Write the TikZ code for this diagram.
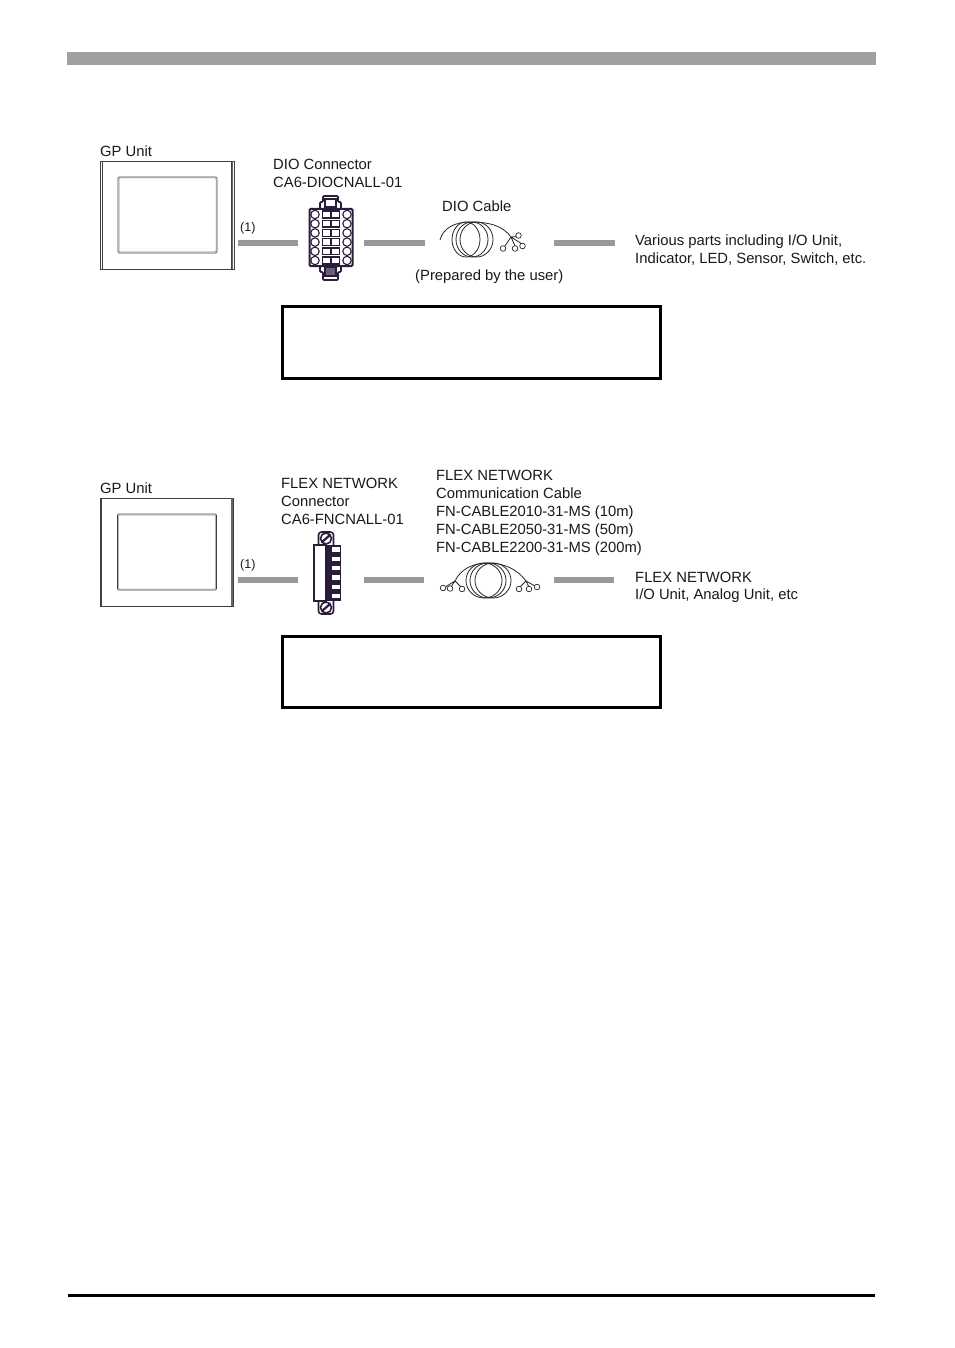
\documentclass[tikz,border=0pt]{standalone}
\usepackage{fontspec}
\setmainfont{Liberation Sans}
\definecolor{barg}{HTML}{999999}
\definecolor{headg}{HTML}{A0A0A0}
\definecolor{conn}{HTML}{2A1C3A}
\tikzset{
 x=1pt,y=-1pt,
 lbl/.style={anchor=base west,inner sep=0pt,font=\fontsize{14.8}{16}\selectfont,text=black!90},
 smalllbl/.style={anchor=base west,inner sep=0pt,font=\fontsize{12.5}{14}\selectfont,text=black!90},
 bar/.style={draw=barg,line width=6pt},
 notebox/.style={draw=black,line width=3pt,fill=white,minimum width=377.5pt,minimum height=71.5pt,inner sep=0pt},
 gpline/.style={draw=black!75,line width=0.6pt},
 coil/.style={draw=black!85,line width=0.8pt},
 plug/.style={draw=black!85,line width=0.7pt,fill=white},
 conline/.style={draw=conn,line width=1.6pt},
}
\newcommand{\gpunit}[3]{% x y name
 \begin{scope}[shift={(#1,#2)}]
 \node[gpline,fill=white,minimum width=133.5pt,minimum height=107.5pt,inner sep=0pt,anchor=north west] (#3) at (0,0) {};
 \draw[gpline] (2,0) -- (2,107.5) (131.5,0) -- (131.5,107.5);
 \draw[black!60,line width=1.4pt] (132.3,0) -- (132.3,107.5);
 \draw[gpline,rounded corners=1pt] (18,16) rectangle (117,92);
 \draw[black!45,line width=0.5pt,rounded corners=1pt] (19,17) rectangle (116,91);
 \end{scope}}
\begin{document}
\begin{tikzpicture}
\useasboundingbox (0,0) rectangle (954,1348);
\fill[white] (0,0) rectangle (954,1348);
% page header and footer
\fill[headg] (67,52.5) rectangle (876,65);
\fill[black] (68,1294) rectangle (875,1296.5);

% ---------- first diagram ----------
\gpunit{100}{161}{gpa}
\node[lbl] (gpal) at (100,156.5) {GP Unit};
\node[smalllbl] (na) at (240,231.5) {(1)};
\node[lbl] (dioa) at (273,169.5) {DIO Connector};
\node[lbl] (diob) at (273,187.5) {CA6-DIOCNALL-01};
\node[lbl] (cabl) at (442,211.5) {DIO Cable};
\node[lbl] (prep) at (415,280) {(Prepared by the user)};
\node[lbl] (vara) at (635,245) {Various parts including I/O Unit,};
\node[lbl] (varb) at (635,263) {Indicator, LED, Sensor, Switch, etc.};

\coordinate (a1) at (238,243); \coordinate (a2) at (298,243);
\coordinate (a3) at (364,243); \coordinate (a4) at (425,243);
\coordinate (a5) at (554,243); \coordinate (a6) at (615,243);
\draw[bar] (a1) -- (a2);
\draw[bar] (a3) -- (a4);
\draw[bar] (a5) -- (a6);

% DIO connector
\draw[conline,fill=white,rounded corners=1pt] (320,209) -- (320,202) -- (323,202) -- (323,196) -- (338,196) -- (338,202) -- (341,202) -- (341,209);
\draw[conline,fill=white] (325,199) rectangle (336,207);
\draw[conline,fill=white,rounded corners=1pt] (320,264) -- (320,272) -- (323,272) -- (323,280) -- (338,280) -- (338,272) -- (341,272) -- (341,264);
\draw[conline,fill=conn!70] (325,267) rectangle (336,276);
\draw[conline,line width=2pt,fill=white,rounded corners=1pt] (309.5,209) rectangle (352.5,266);
\foreach \i in {0,...,5}{
  \pgfmathsetmacro{\yy}{214.5+9.2*\i}
  \draw[conline,line width=1.1pt,fill=white] (315,\yy) circle[radius=4.2pt];
  \draw[conline,line width=1.1pt,fill=white] (347,\yy) circle[radius=4.2pt];
  \draw[conline,line width=1.3pt,fill=white] (322.5,\yy-3.4) rectangle (331,\yy+3.4);
  \draw[conline,line width=1.3pt,fill=white] (331,\yy-3.4) rectangle (339.5,\yy+3.4);
}

\node[notebox] (boxa) at (471.5,342.5) {};

% DIO cable
\foreach \c/\r in {466/14,472/16,476.5/16.5}
  \draw[coil] (\c,239.5) ellipse[x radius=\r pt,y radius=17.5pt];
\draw[coil] (440,240) .. controls (443,228) and (455,222) .. (470,222) .. controls (490,222) and (503,226) .. (511,237);
\draw[coil] (511,237) -- (517.5,236.5) (511,237) -- (522,244) (511,237) -- (515,246) (511,237) -- (505,246);
\foreach \xx/\yy in {518.5/235.5,522.5/246,515/248.5,503/248.5}
  \draw[plug] (\xx,\yy) circle[radius=2.8pt];

% ---------- second diagram ----------
\gpunit{99.5}{498}{gpb}
\node[lbl] (gpbl) at (100,493) {GP Unit};
\node[smalllbl] (nb) at (240,568) {(1)};
\node[lbl] (fna) at (281,488) {FLEX NETWORK};
\node[lbl] (fnb) at (281,506) {Connector};
\node[lbl] (fnc) at (281,524) {CA6-FNCNALL-01};
\node[lbl] (cca) at (436,480) {FLEX NETWORK};
\node[lbl] (ccb) at (436,498) {Communication Cable};
\node[lbl] (ccc) at (436,516) {FN-CABLE2010-31-MS (10m)};
\node[lbl] (ccd) at (436,534) {FN-CABLE2050-31-MS (50m)};
\node[lbl] (cce) at (436,552) {FN-CABLE2200-31-MS (200m)};
\node[lbl] (ioa) at (635,582) {FLEX NETWORK};
\node[lbl] (iob) at (635,599) {I/O Unit, Analog Unit, etc};

\coordinate (b1) at (238,580); \coordinate (b2) at (298,580);
\coordinate (b3) at (364,580); \coordinate (b4) at (424,580);
\coordinate (b5) at (554,580); \coordinate (b6) at (614,580);
\draw[bar] (b1) -- (b2);
\draw[bar] (b3) -- (b4);
\draw[bar] (b5) -- (b6);

% FLEX NETWORK connector
\draw[conline,fill=white,rounded corners=3pt] (318.5,546) -- (318.5,532) -- (333.5,532) -- (333.5,546);
\draw[conline,fill=white,rounded corners=3pt] (318.5,600) -- (318.5,614) -- (333.5,614) -- (333.5,600);
\foreach \yy in {538.5,607.5}{
  \draw[conline,fill=white] (326,\yy) circle[radius=5.5pt];
  \draw[conline,line width=2.2pt] (322,\yy+3.5) -- (330,\yy-3.5);
}
\fill[conn] (326,545) rectangle (341,601);
\draw[conline,fill=white] (314,545) rectangle (326,601);
\foreach \i in {0,...,5}{
  \pgfmathsetmacro{\yy}{549.5+9.3*\i}
  \fill[white] (331.5,\yy-2.2) rectangle (339.5,\yy+2.2);
}

\node[notebox] (boxb) at (471.5,672) {};

% FLEX NETWORK cable
\foreach \c/\r in {484/18,488/18,493/18}
  \draw[coil] (\c,580.5) ellipse[x radius=\r pt,y radius=17.5pt];
\draw[coil] (455,581) .. controls (460,570) and (472,563) .. (488,563) .. controls (505,563) and (518,570) .. (526,581);
\draw[coil] (455,581) -- (446,586.5) (455,581) -- (451,587) (455,581) -- (461,587);
\draw[coil] (526,581) -- (520,587) (526,581) -- (529,587) (526,581) -- (535,586);
\foreach \xx/\yy in {443/588,450/588.5,462/589,519/589,529/589,537/587}
  \draw[plug] (\xx,\yy) circle[radius=2.8pt];
\end{tikzpicture}
\end{document}
